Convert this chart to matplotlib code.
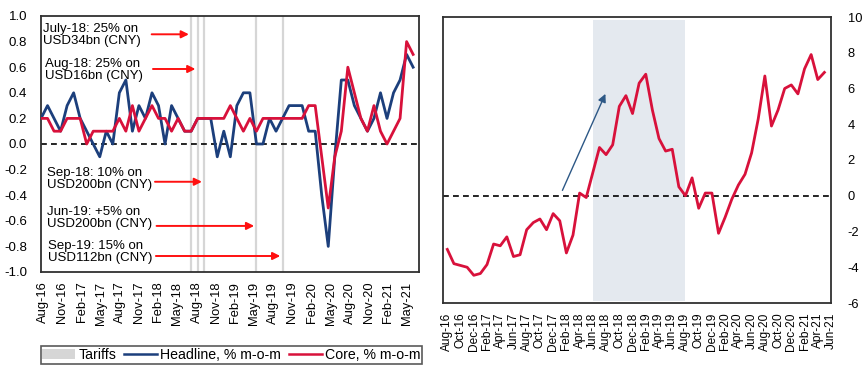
import numpy as np
import pandas as pd
import matplotlib
matplotlib.use("Agg")
import matplotlib.pyplot as plt
from matplotlib.patches import Patch
from matplotlib.lines import Line2D

plt.rcParams['font.family'] = ['Liberation Sans', 'DejaVu Sans']
plt.rcParams['axes.unicode_minus'] = False

# ---------------- data ----------------
months = list(pd.date_range('2016-08-01', periods=58, freq='MS').strftime('%b-%y'))

headline = [0.2, 0.3, 0.2, 0.1, 0.3, 0.4, 0.2, 0.1, 0.0, -0.1,
            0.1, 0.0, 0.4, 0.5, 0.1, 0.3, 0.2, 0.4, 0.3, 0.0,
            0.3, 0.2, 0.1, 0.1, 0.2, 0.2, 0.2, -0.1, 0.1, -0.1,
            0.3, 0.4, 0.4, 0.0, 0.0, 0.2, 0.1, 0.2, 0.3, 0.3,
            0.3, 0.1, 0.1, -0.4, -0.8, -0.1, 0.5, 0.5, 0.3, 0.2,
            0.1, 0.2, 0.4, 0.2, 0.4, 0.5, 0.7, 0.6]

core = [0.2, 0.2, 0.1, 0.1, 0.2, 0.2, 0.2, 0.0, 0.1, 0.1,
        0.1, 0.1, 0.2, 0.1, 0.3, 0.1, 0.2, 0.3, 0.2, 0.2,
        0.1, 0.2, 0.1, 0.1, 0.2, 0.2, 0.2, 0.2, 0.2, 0.3,
        0.2, 0.1, 0.2, 0.1, 0.2, 0.2, 0.2, 0.2, 0.2, 0.2,
        0.2, 0.3, 0.3, -0.1, -0.5, -0.1, 0.1, 0.6, 0.4, 0.2,
        0.1, 0.3, 0.1, 0.0, 0.1, 0.2, 0.8, 0.7]

right_series = [-3.0, -3.8, -3.9, -4.0, -4.45, -4.35, -3.85, -2.7, -2.8, -2.3,
                -3.4, -3.3, -1.9, -1.5, -1.3, -1.9, -1.0, -1.4, -3.2, -2.2,
                0.15, -0.1, 1.3, 2.7, 2.3, 2.85, 5.0, 5.6, 4.6, 6.3,
                6.8, 4.8, 3.2, 2.5, 2.6, 0.5, 0.0, 1.0, -0.7, 0.15,
                0.15, -2.1, -1.2, -0.2, 0.6, 1.2, 2.4, 4.3, 6.7, 3.9,
                4.8, 6.0, 6.2, 5.7, 7.1, 7.9, 6.5, 6.9]

tariff_months = ['Jul-18', 'Aug-18', 'Sep-18', 'May-19', 'Sep-19']
shade_start, shade_end = 'Jun-18', 'Aug-19'

left_ticklabels = ['Aug-16', 'Nov-16', 'Feb-17', 'May-17', 'Aug-17', 'Nov-17', 'Feb-18',
                   'May-18', 'Aug-18', 'Nov-18', 'Feb-19', 'May-19', 'Aug-19', 'Nov-19',
                   'Feb-20', 'May-20', 'Aug-20', 'Nov-20', 'Feb-21', 'May-21']
right_ticklabels = ['Aug-16', 'Oct-16', 'Dec-16', 'Feb-17', 'Apr-17', 'Jun-17', 'Aug-17',
                    'Oct-17', 'Dec-17', 'Feb-18', 'Apr-18', 'Jun-18', 'Aug-18', 'Oct-18',
                    'Dec-18', 'Feb-19', 'Apr-19', 'Jun-19', 'Aug-19', 'Oct-19', 'Dec-19',
                    'Feb-20', 'Apr-20', 'Jun-20', 'Aug-20', 'Oct-20', 'Dec-20', 'Feb-21',
                    'Apr-21', 'Jun-21']

annotations = [
    ("July-18: 25% on\nUSD34bn (CNY)", 'Jul-18'),
    ("Aug-18: 25% on\nUSD16bn (CNY)", 'Aug-18'),
    ("Sep-18: 10% on\nUSD200bn (CNY)", 'Sep-18'),
    ("Jun-19: +5% on\nUSD200bn (CNY)", 'May-19'),
    ("Sep-19: 15% on\nUSD112bn (CNY)", 'Sep-19'),
]

# ---------------- style ----------------
BLUE = '#1c3f7c'
RED = '#d8113b'
TGRAY = '#d6d6d6'
SHADE = '#e4e9ef'
FRAME = '#303030'

fig = plt.figure(figsize=(8.65, 3.72), dpi=100)

# ---------------- left chart ----------------
axL = fig.add_axes([41/865, 1-272/372, (419-41)/865, (272-16)/372])
x = np.arange(len(headline))
for m in tariff_months:
    axL.axvline(months.index(m), color=TGRAY, lw=1.6, zorder=1)
axL.axhline(0, color='black', lw=1.2, ls=(0, (3.5, 2.5)), zorder=2)
axL.plot(x, headline, color=BLUE, lw=2.0, zorder=3)
axL.plot(x, core, color=RED, lw=2.0, zorder=4)
axL.set_xlim(0, 57.9)
axL.set_ylim(-1, 1)
yt = np.round(np.arange(-1.0, 1.01, 0.2), 1)
axL.set_yticks(yt)
axL.set_yticklabels([f"{v + 0.0:.1f}" for v in yt], fontsize=9.5)
axL.set_xticks(np.linspace(0.35, 56.13, len(left_ticklabels)))
axL.set_xticklabels(left_ticklabels, rotation=90, fontsize=9.3)
axL.tick_params(axis='both', length=0)
axL.tick_params(axis='y', pad=10)
axL.tick_params(axis='x', pad=7)
for s in axL.spines.values():
    s.set_color(FRAME); s.set_linewidth(1.3)

# annotation text blocks (axes fractions) and arrows
text_pos = [(0.006, 0.924), (0.011, 0.791), (0.015, 0.365), (0.015, 0.21), (0.019, 0.08)]
arrow_y = [0.857, 0.586, -0.295, -0.64, -0.875]
arrow_x0 = [16.95, 17.15, 17.46, 17.7, 17.6]
for (txt, m), (tx, ty), ay, ax0 in zip(annotations, text_pos, arrow_y, arrow_x0):
    axL.text(tx, ty, txt, transform=axL.transAxes, ha='left', va='center',
             fontsize=9.5, linespacing=1.0, zorder=6)
    axL.annotate('', xy=(months.index(m) - 0.35, ay), xytext=(ax0, ay),
                 arrowprops=dict(arrowstyle='-|>', color='#ff1010', lw=1.4,
                                 mutation_scale=11, shrinkA=0, shrinkB=0), zorder=6)

# legend
handles = [Patch(facecolor=TGRAY, edgecolor='none'),
           Line2D([], [], color=BLUE, lw=1.8),
           Line2D([], [], color=RED, lw=1.8)]
leg = fig.legend(handles, ['Tariffs', 'Headline, % m-o-m', 'Core, % m-o-m'],
                 loc='center', bbox_to_anchor=(231.5/865, 1-355/372), ncol=3,
                 fontsize=10.2, frameon=True, fancybox=False, handlelength=2.3,
                 handletextpad=0.25, columnspacing=0.55, borderpad=0.12,
                 borderaxespad=0)
leg.get_frame().set_edgecolor(FRAME)
leg.get_frame().set_linewidth(1.2)

# ---------------- right chart ----------------
axR = fig.add_axes([443/865, 1-303/372, (831-443)/865, (303-17)/372])
xr = np.arange(len(right_series))
axR.axvspan(months.index(shade_start), months.index(shade_end), ymin=0.008, ymax=0.99,
            color=SHADE, lw=0, zorder=0)
axR.axhline(0, color='black', lw=1.2, ls=(0, (3.5, 2.5)), zorder=2)
axR.plot(xr, right_series, color=RED, lw=2.0, zorder=3)
axR.annotate('', xy=(23.9, 5.7), xytext=(17.4, 0.3),
             arrowprops=dict(arrowstyle='-|>', color='#2d5886', lw=1.0,
                             mutation_scale=12, shrinkA=0, shrinkB=0), zorder=4)
axR.set_xlim(-0.65, 58.0)
axR.set_ylim(-6, 10)
axR.yaxis.tick_right()
axR.set_yticks(np.arange(-6, 11, 2))
axR.set_yticklabels([str(v) for v in range(-6, 11, 2)], fontsize=9.3)
axR.set_xticks(np.arange(0, 2 * len(right_ticklabels), 2))
axR.set_xticklabels(right_ticklabels, rotation=90, fontsize=8.6)
axR.tick_params(axis='both', length=0)
axR.tick_params(axis='y', pad=12)
axR.tick_params(axis='x', pad=7)
for s in axR.spines.values():
    s.set_color(FRAME); s.set_linewidth(1.3)

fig.savefig('out.png', dpi=100)
